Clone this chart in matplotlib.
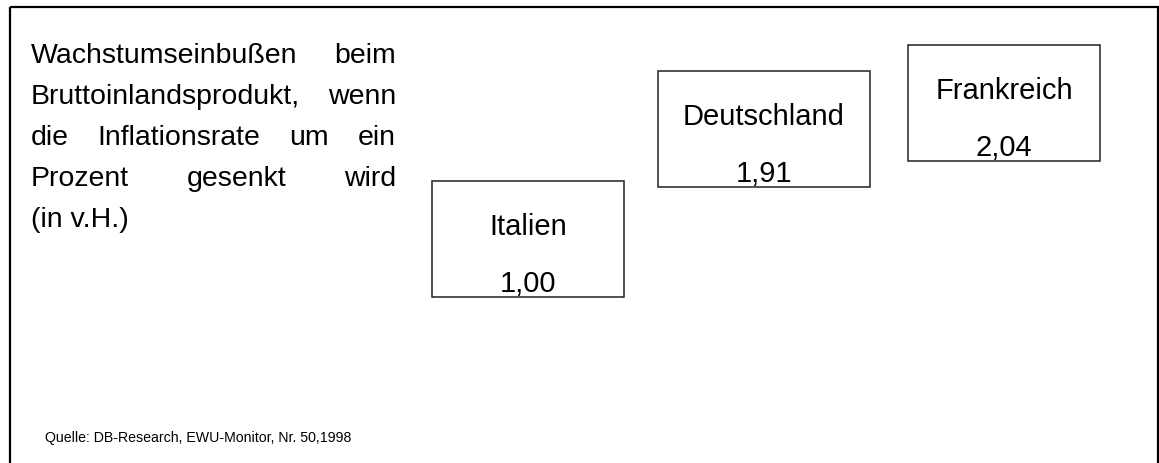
import matplotlib
matplotlib.use("Agg")
import matplotlib.pyplot as plt
from matplotlib.patches import Rectangle

plt.rcParams['font.family'] = ['Liberation Sans', 'DejaVu Sans']

# data
countries = ['Italien', 'Deutschland', 'Frankreich']
values = [1.00, 1.91, 2.04]
note_lines = [
    'Wachstumseinbußen beim',
    'Bruttoinlandsprodukt, wenn',
    'die Inflationsrate um ein',
    'Prozent gesenkt wird',
    '(in v.H.)',
]
source = 'Quelle: DB-Research, EWU-Monitor, Nr. 50,1998'

# layout of the boxes (pixel space, y downwards)
box_left = [432, 658, 908]
box_top = [181, 71, 45]
box_width = [192, 212, 192]
box_height = 116

W, H = 1159, 463
fig = plt.figure(figsize=(W / 100, H / 100), dpi=100)
ax = fig.add_axes([0, 0, 1, 1])
ax.set_xlim(0, W)
ax.set_ylim(H, 0)
ax.axis('off')

fs = 21       # box labels
fs_note = 20.5  # note text on the left

# outer frame
ax.add_patch(Rectangle((10, 7), 1148, 470, fill=False, edgecolor='black',
                       linewidth=1.6, clip_on=False))

# country boxes
for name, val, x, y, w in zip(countries, values, box_left, box_top, box_width):
    ax.add_patch(Rectangle((x, y), w, box_height, fill=False,
                           edgecolor='#222222', linewidth=1.1))
    ax.text(x + w / 2, y + 54, name, ha='center', va='baseline', fontsize=fs)
    ax.text(x + w / 2, y + 111, f'{val:.2f}'.replace('.', ','),
            ha='center', va='baseline', fontsize=fs)

# justified note text on the left
fig.canvas.draw()
renderer = fig.canvas.get_renderer()
left, right = 31, 396


def word_width(word):
    t = ax.text(0, 0, word, fontsize=fs_note)
    bb = t.get_window_extent(renderer=renderer)
    t.remove()
    return bb.width


for i, line in enumerate(note_lines):
    yb = 63 + i * 41
    words = line.split()
    if i == len(note_lines) - 1 or len(words) == 1:
        ax.text(left, yb, line, fontsize=fs_note, va='baseline', ha='left')
        continue
    widths = [word_width(wd) for wd in words]
    gap = (right - left - sum(widths)) / (len(words) - 1)
    x = left
    for wd, ww in zip(words, widths):
        ax.text(x, yb, wd, fontsize=fs_note, va='baseline', ha='left')
        x += ww + gap

ax.text(45, 442, source, fontsize=10.2, va='baseline', ha='left')

fig.savefig('out.png', dpi=100)
